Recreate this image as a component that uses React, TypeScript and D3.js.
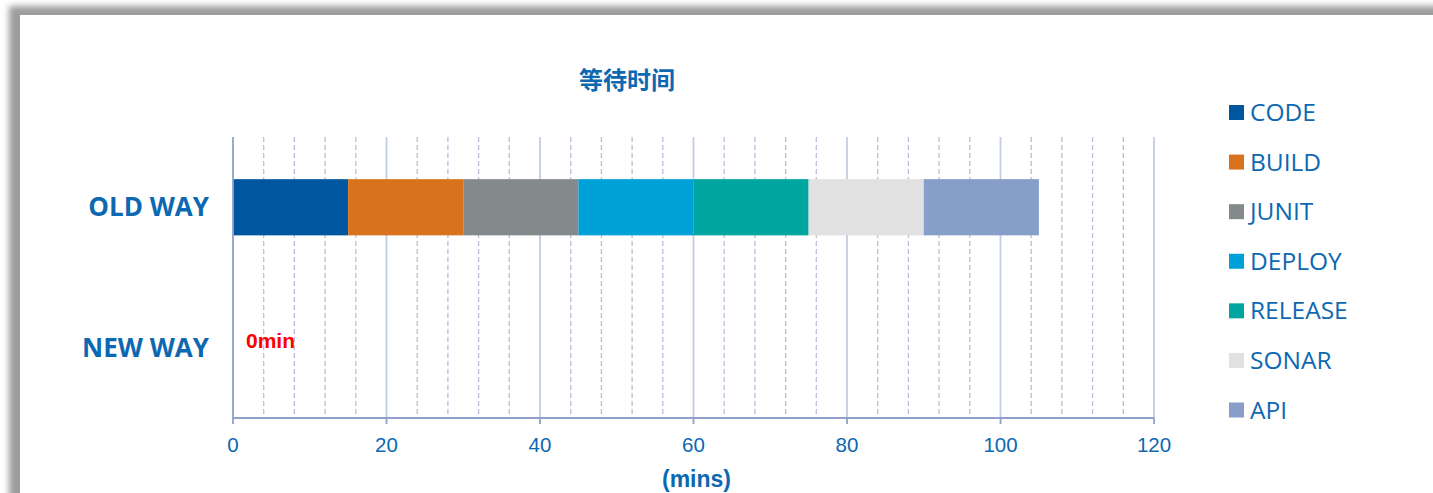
import React from "react";
import * as d3 from "d3";

const W = 1433;
const H = 493;

const title = "等待时间";
const categories = ["OLD WAY", "NEW WAY"];
const seriesNames = ["CODE", "BUILD", "JUNIT", "DEPLOY", "RELEASE", "SONAR", "API"];
const seriesColors = ["#00579f", "#d9721c", "#848a8c", "#00a0d8", "#00a59f", "#e1e1e1", "#869ec8"];
// values per series: [OLD WAY, NEW WAY]
const oldWay = [15, 15, 15, 15, 15, 15, 15];
const newWay = [0, 0, 0, 0, 0, 0, 0];
const majorTicks = [0, 20, 40, 60, 80, 100, 120];
const minorStep = 4;
const xLabel = "(mins)";
const newWayNote = "0min";

const textColor = "#0d68b2";

export default function App() {
  const left = 233;
  const right = 1154;
  const top = 137;
  const bottom = 418;

  const x = d3.scaleLinear().domain([0, 120]).range([left, right]);
  const y = d3
    .scaleBand<string>()
    .domain(categories)
    .range([top, bottom])
    .paddingInner(0.6)
    .paddingOuter(0.3);

  const rows = seriesNames.map((name, i) => ({ name, color: seriesColors[i], values: [oldWay[i], newWay[i]] }));
  const table = categories.map((c, ci) => {
    const obj: Record<string, any> = { category: c };
    rows.forEach((r) => (obj[r.name] = r.values[ci]));
    return obj;
  });
  const stacked = d3.stack<any>().keys(seriesNames)(table);

  const minorTicks = d3.range(0, 120 + 0.001, minorStep).filter((v) => !majorTicks.includes(v));

  const legendY = d3.scaleLinear().domain([0, seriesNames.length - 1]).range([112.5, 410]);

  return (
    <svg
      width={W}
      height={H}
      style={{ position: "absolute", left: 0, top: 0, display: "block" }}
    >
      <defs>
        <filter id="sh" x="-10%" y="-10%" width="120%" height="120%">
          <feGaussianBlur stdDeviation="3" />
        </filter>
      </defs>
      <rect x={0} y={0} width={W} height={H} fill="#ffffff" />
      <rect x={9} y={6} width={W + 40} height={H + 40} fill="#9c9c9c" filter="url(#sh)" />
      <rect x={20} y={15} width={W} height={H} fill="#ffffff" />

      {/* gridlines */}
      {minorTicks.map((v) => (
        <line
          key={"mn" + v}
          x1={x(v)}
          x2={x(v)}
          y1={top}
          y2={bottom}
          stroke="#b5c0da"
          strokeWidth={1.3}
          strokeDasharray="5,3"
        />
      ))}
      {majorTicks.slice(1).map((v) => (
        <line key={"mj" + v} x1={x(v)} x2={x(v)} y1={top} y2={bottom} stroke="#c2cce3" strokeWidth={1.8} />
      ))}

      {/* bars */}
      {stacked.map((layer, li) =>
        layer.map((d, di) =>
          d[1] - d[0] > 0 ? (
            <rect
              key={li + "-" + di}
              x={x(d[0])}
              y={y(categories[di])}
              width={x(d[1]) - x(d[0])}
              height={y.bandwidth()}
              fill={seriesColors[li]}
            />
          ) : null
        )
      )}

      {/* axes */}
      <line x1={left} x2={left} y1={top} y2={bottom} stroke="#8fa1ca" strokeWidth={1.8} />
      <line x1={left} x2={right} y1={bottom} y2={bottom} stroke="#8fa1ca" strokeWidth={1.8} />
      {majorTicks.map((v) => (
        <g key={"t" + v}>
          <line x1={x(v)} x2={x(v)} y1={bottom} y2={bottom + 6} stroke="#8fa1ca" strokeWidth={1.8} />
          <text
            x={x(v)}
            y={452}
            textAnchor="middle"
            fill={textColor}
            fontFamily="'Liberation Sans', Arial, sans-serif"
            fontSize={20.5}
          >
            {v}
          </text>
        </g>
      ))}
      <text
        x={(left + right) / 2 + 3}
        y={487}
        textAnchor="middle"
        fill={textColor}
        fontFamily="'Liberation Sans', Arial, sans-serif"
        fontWeight="bold"
        fontSize={23}
      >
        {xLabel}
      </text>

      {/* category labels */}
      {categories.map((c) => (
        <text
          key={c}
          x={209}
          y={(y(c) as number) + y.bandwidth() / 2 + 9}
          textAnchor="end"
          fill={textColor}
          fontFamily="'Open Sans', sans-serif"
          fontWeight="bold"
          fontSize={26}
        >
          {c}
        </text>
      ))}

      <text
        x={246}
        y={348}
        fill="#ff0000"
        fontFamily="'Liberation Sans', Arial, sans-serif"
        fontWeight="bold"
        fontSize={21}
      >
        {newWayNote}
      </text>

      {/* title */}
      <text
        x={627}
        y={89}
        textAnchor="middle"
        fill={textColor}
        fontFamily="'Noto Sans CJK SC', sans-serif"
        fontWeight="bold"
        fontSize={24}
      >
        {title}
      </text>

      {/* legend */}
      {seriesNames.map((n, i) => (
        <g key={n}>
          <rect x={1229} y={legendY(i) - 7.5} width={15} height={15} fill={seriesColors[i]} />
          <text
            x={1250}
            y={legendY(i) + 8.5}
            fill={textColor}
            fontFamily="'Open Sans', sans-serif"
            fontSize={24.5}
          >
            {n}
          </text>
        </g>
      ))}
    </svg>
  );
}
